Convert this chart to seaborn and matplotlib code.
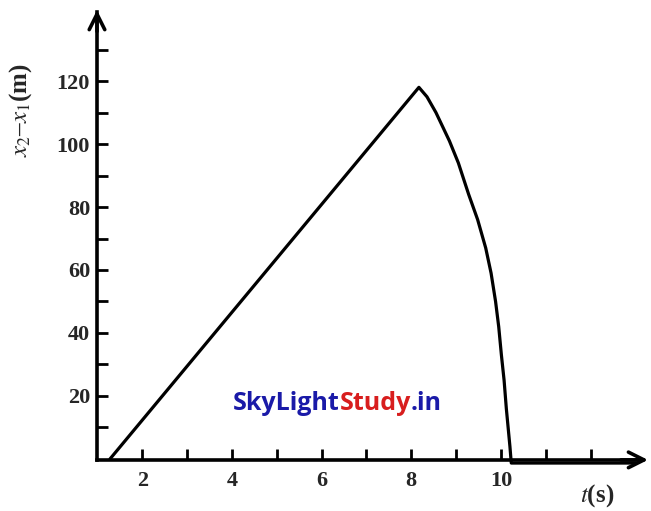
import pandas as pd
import seaborn as sns
import matplotlib.pyplot as plt

# values
t_vals = [1.28, 8.17, 8.35, 8.55, 8.85, 9.05, 9.28, 9.48, 9.66, 9.78, 9.88, 9.95, 10.01, 10.07, 10.12, 10.16, 10.2, 10.23, 13.0]
gap_vals = [0, 118, 115, 110, 101, 94, 84, 76, 67, 59, 50, 42, 33, 25, 16, 10, 4, -1.3, -1.3]
x_ticks = [2, 3, 4, 5, 6, 7, 8, 9, 10, 11, 12]
x_labels = ["2", "", "4", "", "6", "", "8", "", "10", "", ""]
y_ticks = [10, 20, 30, 40, 50, 60, 70, 80, 90, 100, 110, 120, 130]
y_labels = ["", "20", "", "40", "", "60", "", "80", "", "100", "", "120", ""]

df = pd.DataFrame({"t": t_vals, "gap": gap_vals})

sns.set_style("ticks")
plt.rcParams["font.family"] = ["Liberation Serif", "DejaVu Serif"]
plt.rcParams["mathtext.fontset"] = "stix"

fig = plt.figure(figsize=(6.51, 5.11), dpi=100)
ax = fig.add_axes([0.149, 0.1, 0.834, 0.877])

sns.lineplot(data=df, x="t", y="gap", sort=False, color="black", linewidth=2.3, ax=ax, clip_on=False)

ax.set_xlim(0.99, 13.1)
ax.set_ylim(-0.3, 142)
ax.set_xticks(x_ticks)
ax.set_xticklabels(x_labels, fontsize=16, fontweight="bold")
ax.set_yticks(y_ticks)
ax.set_yticklabels(y_labels, fontsize=16, fontweight="bold")
ax.tick_params(axis="both", direction="in", length=8, width=2, color="black", pad=5)
ax.tick_params(axis="x", pad=8)
ax.set_xlabel("")
ax.set_ylabel("")

for side in ["top", "right"]:
    ax.spines[side].set_visible(False)
for side in ["left", "bottom"]:
    ax.spines[side].set_linewidth(2.6)
    ax.spines[side].set_color("black")

# arrow heads on the axes
ax.annotate("", xy=(1.02, 0), xytext=(0.96, 0), xycoords="axes fraction",
            arrowprops=dict(arrowstyle="->", lw=2.6, color="black", mutation_scale=28))
ax.annotate("", xy=(0, 1.01), xytext=(0, 0.95), xycoords="axes fraction",
            arrowprops=dict(arrowstyle="->", lw=2.6, color="black", mutation_scale=28))

fig.text(0.918, 0.03, r"$t$(s)", fontsize=18, fontweight="bold", ha="center", va="center")
fig.text(0.032, 0.785, r"$x_2$–$x_1$(m)", fontsize=18, fontweight="bold", rotation=90, ha="center", va="center")

# watermark
parts = [("SkyLight", "#1a1aa8"), ("Study", "#d81e1e"), (".in", "#1a1aa8")]
fig.canvas.draw()
renderer = fig.canvas.get_renderer()
x0 = 233
for word, col in parts:
    txt = fig.text(x0 / 651, 1 - 404 / 511, word, color=col, fontsize=18, fontweight="bold",
                   family=["Open Sans", "DejaVu Sans"], ha="left", va="center")
    x0 += txt.get_window_extent(renderer).width

fig.savefig("out.png", dpi=100)
